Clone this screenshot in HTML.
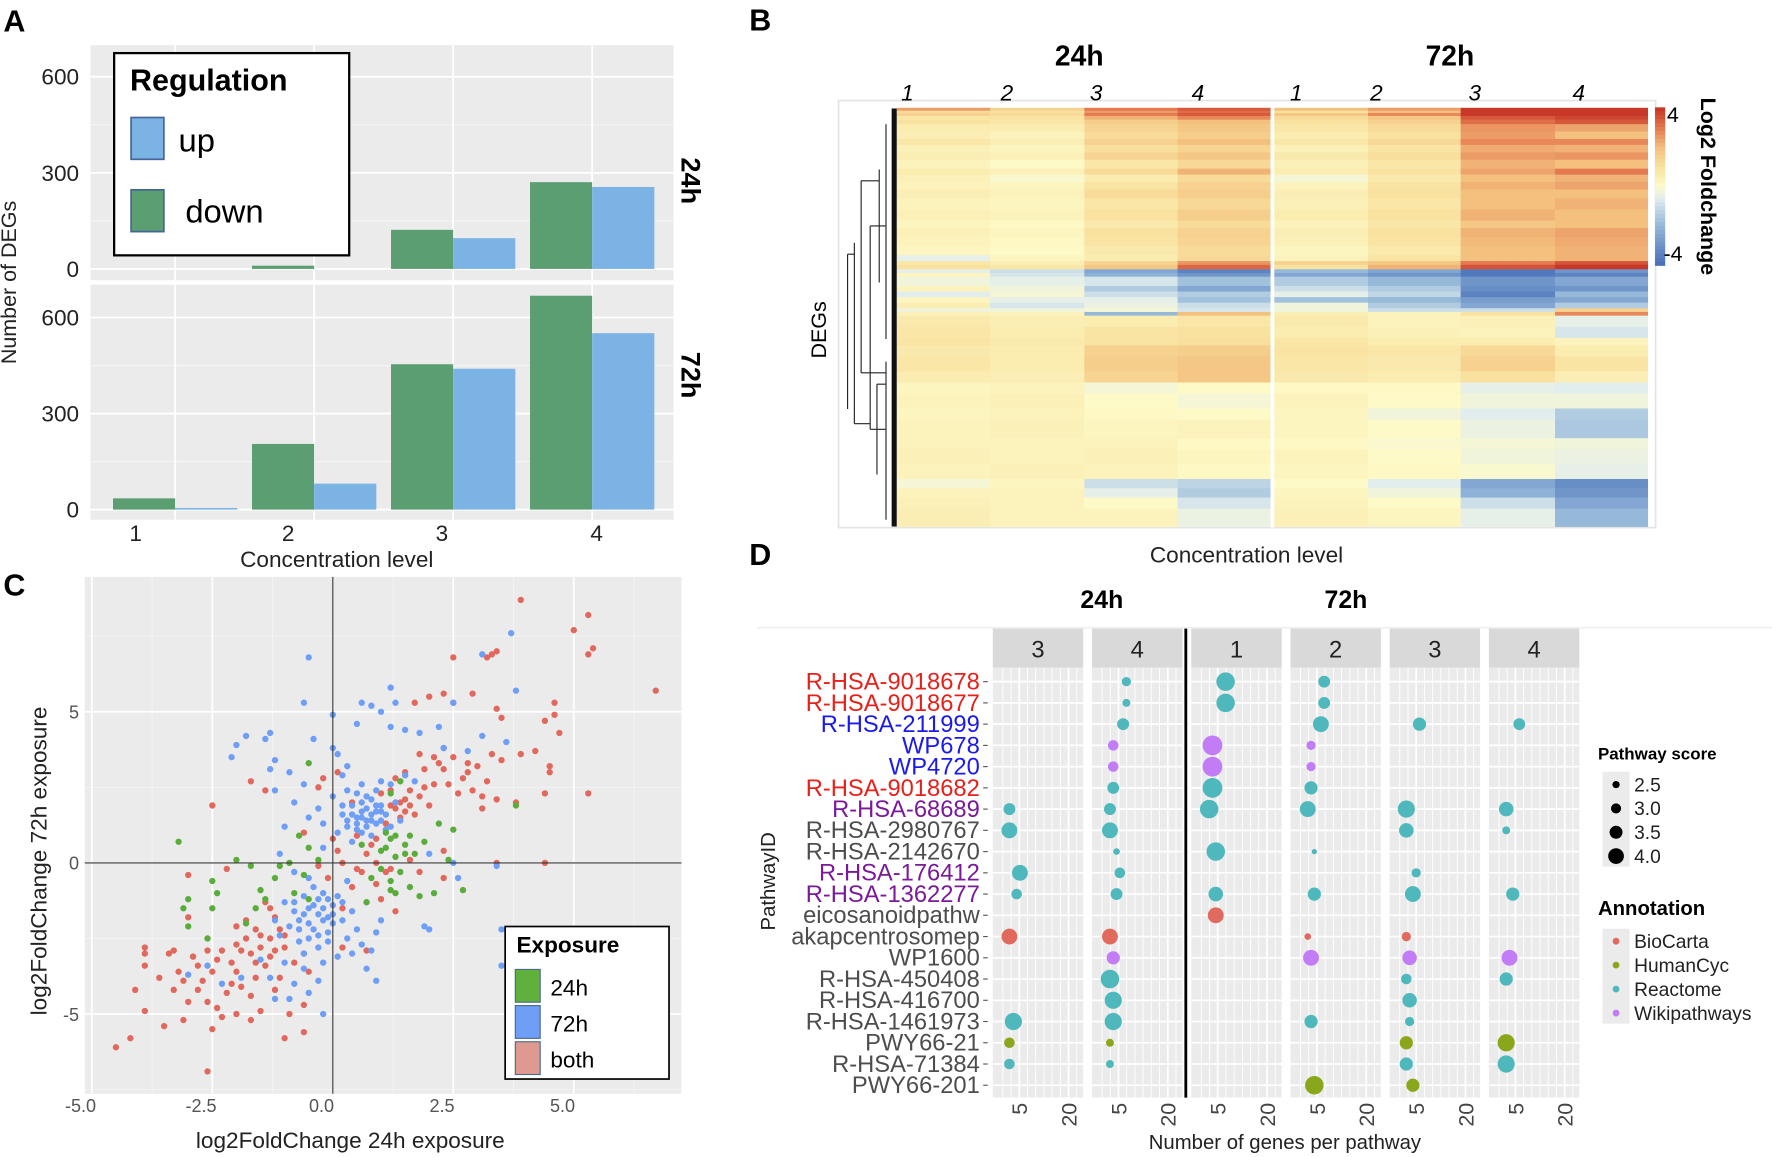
<!DOCTYPE html>
<html><head><meta charset="utf-8">
<style>
html,body{margin:0;padding:0;background:#fff;}
svg{display:block;font-family:"Liberation Sans",sans-serif;}
</style></head>
<body>
<svg id="fig" width="1772" height="1157" viewBox="0 0 1568 1024" preserveAspectRatio="none" xmlns="http://www.w3.org/2000/svg">
<rect x="0" y="0" width="1568" height="1024" fill="#fff"/>
<text x="3" y="28" font-size="27" font-weight="bold">A</text>
<text x="663" y="27" font-size="27" font-weight="bold">B</text>
<text x="3" y="527" font-size="27" font-weight="bold">C</text>
<text x="663" y="500" font-size="27" font-weight="bold">D</text>

<g id="panelA"></g>
<g id="panelB"></g>
<g id="panelC"></g>
<g id="panelD"></g>

<text x="14" y="250" font-size="19" fill="#222" text-anchor="middle" transform="rotate(-90 14 250)">Number of DEGs</text>
<text x="298" y="502" font-size="20" fill="#222" text-anchor="middle">Concentration level</text>
<text x="603" y="160" font-size="24" font-weight="bold" text-anchor="middle" transform="rotate(90 603 160)">24h</text>
<text x="603" y="332" font-size="24" font-weight="bold" text-anchor="middle" transform="rotate(90 603 332)">72h</text>
<g id="aLegend">
<rect x="101" y="47" width="208" height="179" fill="#fff" stroke="#000" stroke-width="2"/>
<text x="115" y="80" font-size="27" font-weight="bold">Regulation</text>
<rect x="116" y="104" width="29" height="37" fill="#7ab3e4" stroke="#45659a" stroke-width="1.5"/>
<text x="158" y="134" font-size="29">up</text>
<rect x="116" y="168" width="29" height="37" fill="#5a9e72" stroke="#45659a" stroke-width="1.5"/>
<text x="164" y="197" font-size="29">down</text>
</g>

<text x="955" y="58" font-size="25" font-weight="bold" text-anchor="middle">24h</text>
<text x="1283" y="58" font-size="25" font-weight="bold" text-anchor="middle">72h</text>
<text x="731" y="292" font-size="19" text-anchor="middle" transform="rotate(-90 731 292)">DEGs</text>
<text x="1103" y="498" font-size="20" fill="#222" text-anchor="middle">Concentration level</text>
<text x="1475" y="108" font-size="19">4</text>
<text x="1472" y="231" font-size="19">-4</text>
<text x="1505" y="165" font-size="19" font-weight="bold" text-anchor="middle" transform="rotate(90 1505 165)">Log2 Foldchange</text>

<text x="310" y="1016" font-size="20" fill="#222" text-anchor="middle">log2FoldChange 24h exposure</text>
<text x="41" y="762" font-size="20" fill="#222" text-anchor="middle" transform="rotate(-90 41 762)">log2FoldChange 72h exposure</text>
<g id="cLegend">
<rect x="447" y="820" width="145" height="135" fill="#fff" stroke="#000" stroke-width="1.5"/>
<text x="457" y="843" font-size="20" font-weight="bold">Exposure</text>
<rect x="456" y="858" width="22" height="29" fill="#60b03c" stroke="#4a6a8a"/>
<text x="487" y="881" font-size="20">24h</text>
<rect x="456" y="890" width="22" height="29" fill="#6e9ef5" stroke="#4a6a8a"/>
<text x="487" y="913" font-size="20">72h</text>
<rect x="456" y="922" width="22" height="29" fill="#de9a90" stroke="#4a6a8a"/>
<text x="487" y="945" font-size="20">both</text>
</g>

<text x="975" y="538" font-size="22" font-weight="bold" text-anchor="middle">24h</text>
<text x="1191" y="538" font-size="22" font-weight="bold" text-anchor="middle">72h</text>
<line x1="670" y1="555.6" x2="1568" y2="555.6" stroke="#f0f0f0" stroke-width="1.5"/>
<text x="686" y="780" font-size="18" fill="#222" text-anchor="middle" transform="rotate(-90 686 780)">PathwayID</text>
<text x="1137" y="1017" font-size="18" fill="#222" text-anchor="middle">Number of genes per pathway</text>
<text x="1414" y="672" font-size="15" font-weight="bold">Pathway score</text>
<text x="1414" y="810" font-size="18" font-weight="bold">Annotation</text>
<g id="dLegend"></g>
</svg>

<script>
// ---------- Panel A data ----------
var aCategories = ["1","2","3","4"];
var aDown24 = [0, 10, 122, 271];
var aUp24 = [0, 0, 96, 256];
var aDown72 = [35, 205, 454, 668];
var aUp72 = [5, 81, 440, 551];
var aYTicks = [0, 300, 600];

// ---------- Panel B data ----------
var bColumns = ["1","2","3","4","1","2","3","4"];
var bBandHeights = [8,6,8,10,12,20,20,16,20,20,24,16,20,20,24,30,30,20,24,24,25,16,10,12,
  10,10,25,15,15,15,15,10,10,
  30,30,20,30,40,30,
  30,40,30,50,30,40,40,
  25,25,30,48];
var bBandValues = [
[2.5,1.5,3,3.5,2,2.5,4,4],[1.2,1.0,2.5,3.2,1.0,2.0,4,4],[1.5,1.2,3,3.5,1.8,2.8,4,4.2],[0.8,0.9,2.2,2.8,1.2,1.8,3.5,3.8],
[1.0,0.8,1.6,2.0,1.0,1.5,3.2,3.5],[0.6,0.6,1.4,1.8,0.8,1.2,2.6,2.4],[0.5,0.3,1.2,1.6,0.6,1.0,2.5,2.0],[0.8,0.5,1.5,2.0,0.8,1.3,2.8,2.8],
[0.4,0.2,1.1,1.4,0.4,0.9,2.3,2.2],[0.5,0.4,1.4,1.8,0.7,1.1,2.5,2.6],[0.3,0.0,0.8,1.3,0.4,0.8,2.2,2.0],[0.6,0.4,1.2,2.2,0.6,1.0,2.4,3.0],
[0.4,-0.1,0.6,1.2,-0.2,0.7,2.0,2.2],[0.3,0.2,0.9,1.5,0.3,0.9,2.2,2.4],[0.5,0.3,1.2,1.6,0.5,1.0,2.0,2.0],[0.3,0.2,0.8,1.3,0.4,0.8,2.0,2.2],
[0.4,0.3,1.0,1.6,0.6,1.0,2.2,2.0],[0.2,0.1,0.7,1.2,0.3,0.8,1.8,2.0],[0.4,0.2,1.0,1.5,0.5,1.0,2.2,2.4],[0.3,0.1,0.9,1.4,0.4,0.9,2.1,2.3],
[0.2,0.0,0.7,1.2,0.2,0.7,2.0,2.2],[-0.5,0.2,0.6,1.3,0.3,0.9,2.0,2.2],[0.8,0.5,1.4,2.6,1.5,1.8,3.0,3.6],[1.0,0.8,1.8,3.3,1.0,2.2,3.6,4.0],
[-0.5,-1.0,-2.5,-3.5,-2.0,-2.5,-3.8,-3.0],[0.2,-0.8,-2.2,-3.0,-2.5,-3.0,-3.8,-3.5],[-0.3,-0.5,-0.8,-1.8,-1.5,-2.0,-3.0,-2.5],
[0.3,-0.3,-1.5,-2.5,-1.0,-1.5,-3.2,-3.0],[-0.6,-0.2,-1.0,-1.5,-0.5,-1.2,-3.5,-2.0],[0.2,-0.5,-0.5,-1.8,-1.8,-2.0,-2.8,-2.5],
[0.5,-0.8,-0.4,-1.0,-0.3,-1.5,-2.5,-1.5],[-0.3,-0.3,-0.2,-0.8,-0.3,-1.0,-1.0,1.5],[0.4,0.3,-2.0,2.0,0.5,0.3,1.0,2.8],
[0.7,0.5,0.6,0.8,0.7,0.3,0.4,-0.5],[0.8,0.6,0.9,1.0,0.6,0.4,0.3,-0.8],[0.9,0.7,0.9,1.1,0.8,0.6,0.6,0.3],
[0.7,0.6,1.5,1.6,0.9,0.8,1.3,0.6],[0.8,0.6,1.6,1.8,0.8,0.7,1.5,0.9],[0.6,0.5,1.4,1.8,0.7,0.6,1.0,0.5],
[0.2,0.3,-0.2,0.0,0.1,0.1,-0.5,-0.6],[0.3,0.4,0.0,-0.2,0.3,0.0,-0.3,-0.3],[0.2,0.3,0.1,0.0,0.2,-0.3,-0.6,-1.5],
[0.3,0.4,0.2,0.3,0.2,0.0,-0.4,-1.6],[0.3,0.3,0.3,0.1,0.1,-0.1,-0.2,-0.3],[0.4,0.3,0.4,0.2,0.3,0.0,-0.3,-0.4],
[0.3,0.4,0.3,0.1,0.2,0.1,-0.1,-0.5],
[-0.2,0.2,-1.0,-1.3,0.0,-0.6,-2.5,-3.2],[0.3,0.3,-0.5,-1.5,0.2,-0.3,-2.2,-3.0],[0.4,0.3,0.0,-0.8,0.3,0.0,-1.0,-2.5],
[0.5,0.3,0.3,-0.4,0.4,0.2,-0.5,-2.0]];

// ---------- Panel C data (x = 24h log2FC, y = 72h log2FC) ----------
var cXTicks = [-5, -2.5, 0, 2.5, 5];
var cXTickLabels = ["-5.0","-2.5","0.0","2.5","5.0"];
var cYTicks = [-5, 0, 5];
var cBoth = [-1.3,-2.5,-1.5,-2.8,-1.7,-3.0,-1.1,-2.2,-1.4,-3.4,-1.9,-2.9,-2.1,-3.3,-1.2,-1.8,-1.6,-2.2,-1.0,-2.8,-1.8,-2.5,-2.3,-2.9,-2.0,-3.6,-2.5,-3.6,-2.8,-3.4,-2.6,-2.9,-2.2,-4.3,-1.9,-4.1,-2.8,-4.2,-3.1,-3.9,-3.0,-4.6,-2.4,-4.8,-2.0,-5.0,-1.5,-4.9,-1.2,-4.2,-0.9,-5.0,-0.6,-4.7,-0.6,-5.6,-1.0,-5.8,-1.7,-5.2,-2.3,-5.1,-2.6,-4.6,-3.5,-5.4,-3.1,-5.2,-3.9,-4.9,-4.1,-4.2,-3.6,-3.8,-3.4,-3.0,-3.2,-3.6,-3.9,-3.0,-3.9,-2.8,-3.9,-3.4,-4.2,-5.8,-4.5,-6.1,-2.6,-6.9,-2.5,-5.5,-1.6,-3.8,-1.4,-1.3,-1.1,-3.8,-0.8,-3.3,-0.5,-3.6,-1.3,-1.5,-0.6,-3.0,-1.8,-1.9,-2.0,-2.1,-3.0,-1.8,-3.3,-2.9,-2.2,-0.2,-3.0,-0.4,-2.5,1.9,-1.7,2.7,-1.4,2.4,
-1.5,-2.4,-1.2,-2.9,-1.0,-2.4,-1.6,-3.3,-2.0,-2.7,-2.4,-3.2,-1.3,-3.1,-2.7,-3.9,-2.1,-4.0,-1.7,-4.4,-3.3,-4.2,-2.9,-3.1,
1.3,1.8,1.5,2.1,1.2,2.4,1.4,1.5,1.6,1.9,1.0,2.3,1.8,2.2,1.7,1.6,1.1,1.3,1.3,2.8,1.9,3.1,2.1,2.6,2.2,3.3,2.3,3.1,2.5,3.5,2.7,2.8,2.9,2.4,3.0,3.2,3.1,1.8,3.2,2.7,3.3,3.6,3.4,2.1,3.5,3.4,2.6,2.3,2.4,2.6,2.0,1.9,1.8,3.6,1.5,3.0,0.9,0.8,0.5,0.9,0.1,0.4,-0.3,-0.1,0.2,0.0,0.7,0.3,0.5,-0.2,1.1,-0.3,0.9,0.0,1.6,0.1,1.8,-0.3,1.0,-1.2,0.4,2.0,-0.3,2.5,-0.6,1.0,-0.2,2.8,0.1,3.0,1.7,5.3,2.0,5.5,2.3,5.6,2.5,5.3,2.5,6.8,2.9,5.6,3.2,6.8,3.3,6.9,3.4,7.0,3.4,5.1,3.5,4.8,3.9,8.7,3.9,3.6,3.8,2.0,4.2,3.7,4.4,4.7,4.5,3.0,4.5,3.2,4.6,4.9,4.6,5.3,4.7,4.3,4.4,2.3,5.0,7.7,5.3,8.2,5.3,6.9,5.4,7.1,5.3,2.3,6.7,5.7,4.4,0.0,3.4,0.0,2.3,0.4,2.3,-0.5,0.9,-0.7,1.3,-1.6,0.2,-1.5,0.7,-2.9,0.2,-2.8,2.3,3.8,2.1,3.5,-0.1,-0.5,0.0,0.8,
1.4,2.0,1.6,2.4,1.2,1.9,1.5,1.7,1.9,2.5,2.8,3.0,3.1,2.2,0.6,-0.3,0.4,-0.8,0.8,0.6,1.2,-0.2,2.8,3.3];
var c72h = [0.3,1.2,0.5,1.5,0.7,1.8,0.9,1.3,1.1,1.6,0.6,1.0,0.8,2.1,1.0,1.9,0.4,1.9,0.2,1.6,1.2,1.2,0.7,1.4,0.9,1.7,0.5,2.3,1.3,2.0,0.1,1.0,0.3,2.4,0.6,2.6,1.0,2.7,0.8,0.9,1.4,1.4,-0.2,1.3,-0.3,1.8,0.0,2.2,0.2,2.9,0.9,2.4,1.2,2.6,1.5,2.9,0.4,0.7,0.7,1.2,0.6,1.7,1.1,1.1,0.8,1.6,0.5,1.3,1.0,1.4,
0.6,1.5,0.8,1.4,0.4,1.6,0.9,1.9,0.7,2.2,0.3,1.4,0.5,1.1,1.0,1.7,0.2,1.9,0.6,2.0,
-0.6,2.6,-0.9,3.0,-1.2,3.4,-1.8,4.2,-2.1,3.5,-2.0,3.9,-1.3,4.3,-1.4,4.1,-0.4,4.1,-0.5,6.8,-0.6,5.3,0.0,4.9,0.0,3.8,0.1,3.6,0.3,3.2,0.5,4.6,0.6,5.3,0.8,5.2,1.0,5.0,1.2,5.8,1.3,5.3,1.2,4.5,1.5,4.4,1.8,4.3,2.2,4.5,2.5,5.3,2.8,3.7,3.1,4.2,3.1,6.9,3.6,4.0,3.7,7.6,3.8,5.7,2.3,3.8,1.7,2.7,-0.8,2.0,-1.0,1.2,-1.2,2.4,-1.3,3.1,-1.1,0.3,-0.5,1.5,-0.2,0.5,2.0,0.3,2.5,0.0,2.6,-0.5,3.5,-2.2,3.4,-0.1,3.5,-3.4,1.9,-2.1,2.0,-2.2,
-0.5,-1.5,-0.3,-1.2,-0.1,-1.8,-0.7,-1.9,-0.4,-2.2,-0.2,-1.0,0.0,-1.4,-0.6,-1.1,-0.8,-1.6,-0.3,-1.7,-0.1,-2.3,-0.5,-2.0,-0.9,-2.1,-0.2,-1.5,0.1,-1.1,-0.4,-0.8,0.2,-1.9,0.4,-1.6,0.5,-2.2,0.7,-1.3,0.6,-2.7,0.3,-2.5,-0.7,-2.6,-1.0,-1.3,-1.1,-2.4,-0.6,-3.0,-0.3,-2.8,0.0,-2.0,-0.2,-3.3,0.1,-3.1,0.7,-3.5,0.9,-2.3,1.0,-1.9,-0.5,-0.5,-0.8,-0.3,0.3,-0.6,-1.2,-1.9,-1.5,-3.2,-1.3,-3.8,-1.0,-3.3,-0.8,-4.0,-0.5,-4.3,-0.3,-3.9,-1.9,-3.8,-2.3,-4.0,-2.6,-3.4,-3.0,-3.7,0.9,-3.9,-1.2,-4.5,-0.2,-5.0,-0.9,-4.5,-0.6,-3.5,0.4,-3.0,0.8,-2.9,-0.1,-2.6,
-0.4,-1.4,-0.6,-1.7,-0.2,-1.9,-0.8,-1.3,-0.3,-2.4,0.0,-1.7,-0.5,-2.5,-0.7,-2.2,0.2,-1.3,-0.1,-1.2];
var c24h = [1.2,0.8,1.0,0.4,1.3,0.2,1.5,0.6,1.1,1.0,1.4,-0.3,1.2,-0.6,1.6,0.9,1.7,0.3,1.9,0.7,1.0,-0.2,0.8,-0.5,1.2,2.3,1.4,2.7,2.2,1.3,2.5,1.1,2.4,0.1,2.7,-0.9,2.1,-1.0,1.8,-1.1,1.6,-0.8,1.3,-1.0,0.6,0.6,0.7,-1.3,-0.5,0.5,-0.6,-0.4,-0.5,-1.2,-0.7,0.9,-0.3,0.1,-0.9,0.0,-1.1,-0.1,-1.2,-0.5,-0.8,-1.0,-1.4,-1.2,-1.5,-0.9,-1.6,-1.5,-1.7,-0.1,-1.8,-2.0,-2.0,0.1,-2.5,-0.6,-2.4,-1.0,-2.5,-1.5,-2.6,-2.5,-3.1,-1.5,-3.0,-1.2,-3.0,-2.1,-3.2,0.7,-0.5,3.3,3.8,1.9,1.2,-0.9,1.1,0.5,1.3,0.9,1.5,0.3];

// ---------- Panel D data ----------
var dPathways = ["R-HSA-9018678","R-HSA-9018677","R-HSA-211999","WP678","WP4720","R-HSA-9018682","R-HSA-68689","R-HSA-2980767","R-HSA-2142670","R-HSA-176412","R-HSA-1362277","eicosanoidpathw","akapcentrosomep","WP1600","R-HSA-450408","R-HSA-416700","R-HSA-1461973","PWY66-21","R-HSA-71384","PWY66-201"];
var dLabelGroup = ["red","red","blue","blue","blue","red","purple","gray","gray","purple","purple","gray","gray","gray","gray","gray","gray","gray","gray","gray"];
var dRowAnnotation = ["Reactome","Reactome","Reactome","Wikipathways","Wikipathways","Reactome","Reactome","Reactome","Reactome","Reactome","Reactome","BioCarta","BioCarta","Wikipathways","Reactome","Reactome","Reactome","HumanCyc","Reactome","HumanCyc"];
var dPanels = ["3","4","1","2","3","4"];
var dXTicks = [5, 20];
var dPanelIdx = [0,0,0,0,0,0,0,0, 1,1,1,1,1,1,1,1,1,1,1,1,1,1,1,1,1,1, 2,2,2,2,2,2,2,2,2, 3,3,3,3,3,3,3,3,3,3,3,3,3, 4,4,4,4,4,4,4,4,4,4,4,4,4, 5,5,5,5,5,5,5,5];
var dRowIdx   = [6,7,9,10,12,16,17,18, 0,1,2,3,4,5,6,7,8,9,10,12,13,14,15,16,17,18, 0,1,3,4,5,6,8,10,11, 0,1,2,3,4,5,6,8,10,12,13,16,19, 2,6,7,9,10,12,13,14,15,16,17,18,19, 2,6,7,10,13,14,17,18];
var dGenes    = [2,2,5.2,4.2,2,3.2,2,2, 7.4,7.4,6.4,3.4,3.4,3.4,2.4,2.4,4.4,5.4,4.4,2.4,3.4,2.4,3.4,3.4,2.4,2.4, 7.4,7.4,3.4,3.4,3.4,2.4,4.4,4.4,4.4, 7.2,7.2,6.2,3.2,3.2,3.2,2.2,4.2,4.2,2.2,3.2,3.2,4.2, 6,2,2,5,4,2,3,2,3,3,2,2,4, 6.2,2.2,2.2,4.2,3.2,2.2,2.2,2.2];
var dScore    = [3.0,3.6,3.6,2.8,3.6,3.8,2.8,2.8, 2.6,2.4,3.0,2.8,2.8,3.0,3.0,3.6,2.2,2.8,3.0,3.6,3.2,4.0,3.8,3.8,2.4,2.4, 4.0,4.0,4.2,4.2,4.2,4.0,4.0,3.4,3.6, 3.0,3.0,3.6,2.6,2.6,3.2,3.6,2.0,3.2,2.2,3.6,3.2,4.0, 3.2,3.8,3.4,2.6,3.6,2.6,3.4,2.8,3.4,2.6,3.2,3.2,3.2, 3.0,3.4,2.4,3.2,3.6,3.2,3.8,3.8];
var dLegendScores = [2.5, 3.0, 3.5, 4.0];
var dAnnotations = ["BioCarta","HumanCyc","Reactome","Wikipathways"];

var NS = "http://www.w3.org/2000/svg";
function mk(tag, attrs, parent){ var e=document.createElementNS(NS,tag); for(var k in attrs){ e.setAttribute(k, attrs[k]); } parent.appendChild(e); return e; }

// ===== Panel A =====
(function(){
  var g = document.getElementById('panelA');
  var facets = [{top:40,bot:248,y0:238,down:aDown24,up:aUp24,name:'24h'},{top:252,bot:460,y0:451,down:aDown72,up:aUp72,name:'72h'}];
  var xL=80, xR=596, perUnit=170/600;
  var xC = function(i){ return 155 + i*123; };
  var tickLabelX = [120,255,391,528];
  facets.forEach(function(f){
    var yS = function(v){ return f.y0 - v*perUnit; };
    var bg = mk('rect',{x:xL,y:f.top,width:xR-xL,height:f.bot-f.top,fill:'#ebebeb'},g);
    
    
    [150,450].forEach(function(v){ var l=mk('line',{x1:xL,x2:xR,y1:yS(v),y2:yS(v),stroke:'#f5f5f5','stroke-width':1},g);
      
       });
    aYTicks.forEach(function(v){ var l=mk('line',{x1:xL,x2:xR,y1:yS(v),y2:yS(v),stroke:'#fff','stroke-width':1.6},g);
      
      
      var t=mk('text',{x:70,y:yS(v)+7,'font-size':20,fill:'#222','text-anchor':'end'},g); t.textContent=String(v);
      
       });
    aCategories.forEach(function(c,i){ var l=mk('line',{x1:xC(i),x2:xC(i),y1:f.top,y2:f.bot,stroke:'#fff','stroke-width':1.6},g);
      
       });
    aCategories.forEach(function(c,i){
      var dv=f.down[i], uv=f.up[i];
      var b1=mk('rect',{x:xC(i)-55,y:yS(dv),width:55,height:dv*perUnit,fill:'#5a9e72'},g);
      
      
      var b2=mk('rect',{x:xC(i),y:yS(uv),width:55,height:uv*perUnit,fill:'#7ab3e4'},g);
      
      
    });
  });
  aCategories.forEach(function(c,i){ var t=mk('text',{x:tickLabelX[i],y:479,'font-size':20,fill:'#222','text-anchor':'middle'},g); t.textContent=c;
    
     });
  var leg=document.getElementById('aLegend'); leg.parentNode.appendChild(leg);
})();

// ===== Panel B =====
(function(){
  var g = document.getElementById('panelB');
  var stops=[[-4,[74,114,184]],[-2,[150,185,218]],[-0.6,[226,238,238]],[0,[253,250,200]],[1,[249,226,160]],[2,[243,192,126]],[3,[229,122,80]],[4,[200,56,40]]];
  function col(v){ if(v<=stops[0][0]) return 'rgb('+stops[0][1]+')'; for(var i=1;i<stops.length;i++){ if(v<=stops[i][0]){ var a=stops[i-1],b=stops[i],t=(v-a[0])/(b[0]-a[0]); var c=a[1].map(function(x,k){return Math.round(x+(b[1][k]-x)*t);}); return 'rgb('+c.join(',')+')'; } } return 'rgb('+stops[stops.length-1][1]+')'; }
  var frame=mk('rect',{x:742,y:89,width:723,height:378,fill:'none',stroke:'#e4e4e4','stroke-width':1.5},g);
  
  
  var colX=[793.5,876,959.5,1042,1127.5,1210.5,1292.5,1376], colW=[82.5,83.5,82.5,82,83,82,83.5,82];
  var top=95.4, bottom=466, total=bBandHeights.reduce(function(a,b){return a+b;},0), sc=(bottom-top)/total;
  var y=top;
  bBandHeights.forEach(function(h,bi){
    var hh=h*sc;
    bBandValues[bi].forEach(function(v,ci){
      var r=mk('rect',{x:colX[ci],y:y,width:colW[ci]+0.3,height:hh+0.4,fill:col(v)},g);
      
      
    });
    y+=hh;
  });
  var gap=mk('rect',{x:1124.5,y:95,width:3,height:372,fill:'#fff'},g);
  
  
  var colLabelX=[803,891,970,1060,1147,1218,1305,1397];
  bColumns.forEach(function(c,i){ var t=mk('text',{x:colLabelX[i],y:89,'font-size':20,'font-style':'italic','text-anchor':'middle'},g); t.textContent=c;
    
     });
  for(var k=0;k<40;k++){ var v=4-8*k/39; var r=mk('rect',{x:1464.5,y:95+k*3.5,width:9,height:3.8,fill:col(v)},g);
    
     }
  var d='M790,96 L790,466 M784,110 L784,300 M778,150 L778,250 M784,320 L784,460 M776,340 L776,420 M770,200 L770,380 M762,160 L762,330 M756,215 L756,375 M750,225 L756,225 M750,225 L750,362 M756,375 L770,375 M762,160 L778,160 M770,200 L784,200 M762,330 L784,330 M776,340 L784,340 M770,380 L784,380';
  var p=mk('path',{d:d,stroke:'#222','stroke-width':1,fill:'none'},g);
  
  
  var dk=mk('rect',{x:789,y:96,width:4.5,height:370,fill:'#111'},g);
  
  
})();

// ===== Panel C =====
(function(){
  var g = document.getElementById('panelC');
  var L=75,R=603,T=510.6,B=968;
  var xS=function(v){ return 294.5 + v*42.65; };
  var yS=function(v){ return 763.7 - v*26.75; };
  var bg=mk('rect',{x:L,y:T,width:R-L,height:B-T,fill:'#ebebeb'},g);
  
  
  [-3.75,-1.25,1.25,3.75,6.25].forEach(function(v){ var l=mk('line',{x1:xS(v),x2:xS(v),y1:T,y2:B,stroke:'#f4f4f4','stroke-width':0.8},g);
    
     });
  [-7.5,-2.5,2.5,7.5].forEach(function(v){ var l=mk('line',{x1:L,x2:R,y1:yS(v),y2:yS(v),stroke:'#f4f4f4','stroke-width':0.8},g);
    
     });
  cXTicks.forEach(function(v,i){ var l=mk('line',{x1:xS(v),x2:xS(v),y1:T,y2:B,stroke:'#fff','stroke-width':1.5},g);
    
    
    var t=mk('text',{x:xS(v)-10,y:984,'font-size':16,fill:'#555','text-anchor':'middle'},g); t.textContent=cXTickLabels[i];
    
     });
  cYTicks.forEach(function(v){ var l=mk('line',{x1:L,x2:R,y1:yS(v),y2:yS(v),stroke:'#fff','stroke-width':1.5},g);
    
    
    var t=mk('text',{x:70,y:yS(v)+6,'font-size':16,fill:'#555','text-anchor':'end'},g); t.textContent=String(v);
    
     });
  function pts(arr,color,name){
    for(var i=0;i<arr.length;i+=2){ var c=mk('circle',{cx:xS(arr[i]),cy:yS(arr[i+1]),r:2.8,fill:color},g);
      
       }
  }
  pts(cBoth,'#e0685c','c-point-both');
  pts(c72h,'#6e9ef5','c-point-72h');
  pts(c24h,'#5aad3a','c-point-24h');
  var ax=mk('line',{x1:xS(0),x2:xS(0),y1:T,y2:B,stroke:'#333','stroke-width':1},g);
  
  
  var ay=mk('line',{x1:L,x2:R,y1:yS(0),y2:yS(0),stroke:'#333','stroke-width':1},g);
  
  
  var leg=document.getElementById('cLegend'); leg.parentNode.appendChild(leg);
})();

// ===== Panel D =====
(function(){
  var g = document.getElementById('panelD');
  var annColor={"BioCarta":"#e06a5e","HumanCyc":"#8aa61a","Reactome":"#4fb8bc","Wikipathways":"#c27cf5"};
  var labColor={"red":"#e8201a","blue":"#1a1aee","purple":"#7a1a9a","gray":"#4d4d4d"};
  var pX=function(i){ return 878.5 + i*87.8; }, PW=80, pTop=591, pBot=971.4;
  var gx=function(i,v){ return pX(i)+8.9+2.907*v; };
  var ry=function(r){ return 603.3 + r*18.8; };
  var rad=function(s){ return (4+5*(s-2))/1.709; };
  dPanels.forEach(function(lab,i){
    var s=mk('rect',{x:pX(i),y:556,width:PW,height:35,fill:'#d9d9d9'},g);
    
    
    var st=mk('text',{x:pX(i)+PW/2,y:582,'font-size':21,fill:'#222','text-anchor':'middle'},g); st.textContent=lab;
    
    
    var bg=mk('rect',{x:pX(i),y:pTop,width:PW,height:pBot-pTop,fill:'#ebebeb'},g);
    
    
    for(var v=0; v<=24; v+=2.5){ var l=mk('line',{x1:gx(i,v),x2:gx(i,v),y1:pTop,y2:pBot,stroke:'#fff','stroke-width':(v===5||v===20)?1.5:0.8},g);
      
       }
    dPathways.forEach(function(p,r){ var l=mk('line',{x1:pX(i),x2:pX(i)+PW,y1:ry(r),y2:ry(r),stroke:'#fff','stroke-width':1.5},g);
      
       });
    dXTicks.forEach(function(v){ var x=gx(i,v)+7, y=976;
      var t=mk('text',{x:x,y:y,'font-size':19,fill:'#444','text-anchor':'end',transform:'rotate(-90 '+x+' '+y+')'},g); t.textContent=String(v);
      
       });
  });
  var sep=mk('line',{x1:1049.3,x2:1049.3,y1:556,y2:pBot,stroke:'#000','stroke-width':2.5},g);
  
  
  dPathways.forEach(function(p,r){
    var t=mk('text',{x:867,y:ry(r)+7,'font-size':21,fill:labColor[dLabelGroup[r]],'text-anchor':'end'},g); t.textContent=p;
    
    
    var tk=mk('line',{x1:870,x2:874,y1:ry(r),y2:ry(r),stroke:'#555','stroke-width':1},g);
    
    
  });
  dPanelIdx.forEach(function(pi,k){
    var r=dRowIdx[k];
    var c=mk('circle',{cx:gx(pi,dGenes[k]),cy:ry(r),r:rad(dScore[k]),fill:annColor[dRowAnnotation[r]]},g);
    
    
  });
  var lg=document.getElementById('dLegend');
  var kb=mk('rect',{x:1418,y:683,width:24,height:84,fill:'#ebebeb'},lg);
  
  
  dLegendScores.forEach(function(s,i){ var y=694.4+i*21.1;
    var c=mk('circle',{cx:1430,cy:y,r:rad(s)*0.85,fill:'#000'},lg);
    
    
    var t=mk('text',{x:1446,y:y+6,'font-size':17,fill:'#222'},lg); t.textContent=s.toFixed(1);
    
     });
  var kb2=mk('rect',{x:1418,y:822,width:24,height:84,fill:'#ebebeb'},lg);
  
  
  dAnnotations.forEach(function(a,i){ var y=833+i*21.2;
    var c=mk('circle',{cx:1430,cy:y,r:3,fill:annColor[a]},lg);
    
    
    var t=mk('text',{x:1446,y:y+6,'font-size':17,fill:'#222'},lg); t.textContent=a;
    
     });
})();
</script>
</body></html>
